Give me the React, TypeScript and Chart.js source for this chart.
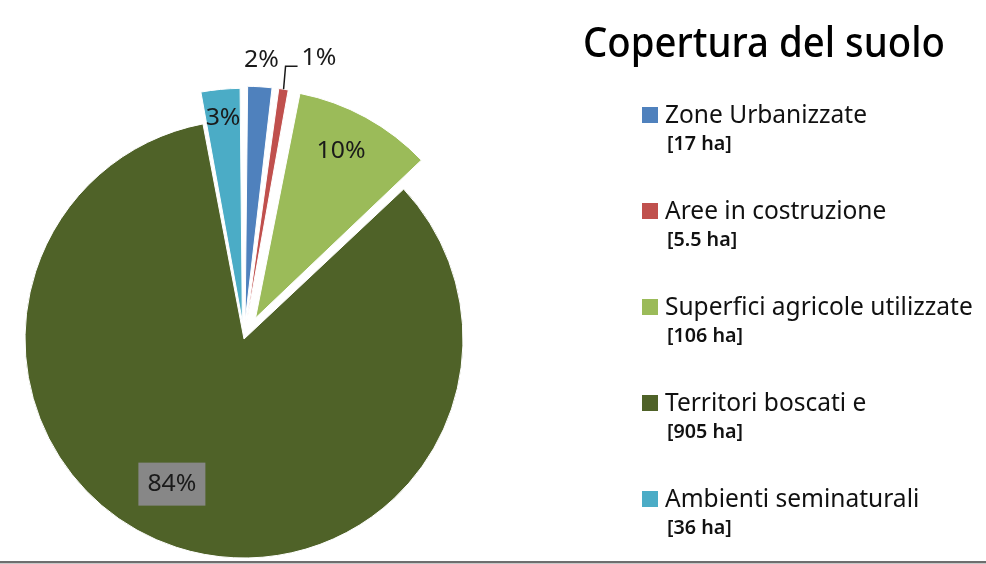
import React, { useEffect, useRef } from "react";
import { Chart, registerables } from "chart.js";

Chart.register(...registerables);

// ---- data ----
const categories = [
  "Zone Urbanizzate",
  "Aree in costruzione",
  "Superfici agricole utilizzate",
  "Territori boscati e",
  "Ambienti seminaturali",
];
const areaLabels = ["[17 ha]", "[5.5 ha]", "[106 ha]", "[905 ha]", "[36 ha]"];
const shares = [2, 1, 10, 84, 3];
const shareLabels = ["2%", "1%", "10%", "84%", "3%"];
const chartTitle = "Copertura del suolo";

// ---- styles ----
const colors = ["#4F81BD", "#C0504D", "#9BBB59", "#4F6228", "#4BACC6"];
const explode = [72, 70, 96, 0, 70];
const FONT = '"Noto Sans", "Open Sans", sans-serif';

function squeeze(ctx: CanvasRenderingContext2D, ref: string, size: number, weight: string, width: number) {
  ctx.font = `${weight} ${size}px ${FONT}`;
  return width / ctx.measureText(ref).width;
}

function fitSize(ctx: CanvasRenderingContext2D, ref: string, weight: string, width: number) {
  ctx.font = `${weight} 100px ${FONT}`;
  return (100 * width) / ctx.measureText(ref).width;
}

function drawText(
  ctx: CanvasRenderingContext2D,
  text: string,
  x: number,
  y: number,
  size: number,
  weight: string,
  sx: number,
  align: CanvasTextAlign,
  baseline: CanvasTextBaseline
) {
  ctx.save();
  ctx.font = `${weight} ${size}px ${FONT}`;
  ctx.textAlign = align;
  ctx.textBaseline = baseline;
  ctx.translate(x, y);
  ctx.scale(sx, 1);
  ctx.fillText(text, 0, 0);
  ctx.restore();
}

const labelPlugin = {
  id: "sliceLabels",
  afterDatasetsDraw(chart: any) {
    const ctx: CanvasRenderingContext2D = chart.ctx;
    const meta = chart.getDatasetMeta(0);
    const size = 24;
    const sx = squeeze(ctx, "84%", size, "400", 49);
    ctx.save();
    meta.data.forEach((arc: any, i: number) => {
      const p = arc.getProps(["x", "y", "startAngle", "endAngle", "outerRadius", "circumference"], true);
      const off = (arc.options.offset || 0) / 4;
      const mid = (p.startAngle + p.endAngle) / 2;
      const fix = 1 - Math.sin(Math.min(Math.PI, p.circumference || 0));
      const t = off * (1 + fix);
      const cx = p.x + Math.cos(mid) * t;
      const cy = p.y + Math.sin(mid) * t;
      const r = p.outerRadius;
      const at = (k: number, da: number) => [cx + Math.cos(mid + da) * r * k, cy + Math.sin(mid + da) * r * k];
      ctx.fillStyle = "#1a1a1a";
      if (i === 0) {
        const [x, y] = at(1.12, 0);
        drawText(ctx, shareLabels[i], x, y, size, "400", sx, "center", "middle");
      } else if (i === 1) {
        const sxp = cx + Math.cos(mid) * r;
        const syp = cy + Math.sin(mid) * r;
        ctx.strokeStyle = "#1a1a1a";
        ctx.lineWidth = 1.5;
        ctx.beginPath();
        ctx.moveTo(sxp, syp);
        ctx.lineTo(sxp + 2, syp - 23);
        ctx.lineTo(sxp + 14, syp - 23);
        ctx.stroke();
        drawText(ctx, shareLabels[i], sxp + 18, syp - 31, size, "400", sx, "left", "middle");
      } else if (i === 2) {
        const [x, y] = at(0.81, -0.03);
        drawText(ctx, shareLabels[i], x, y, size, "400", sx, "center", "middle");
      } else if (i === 3) {
        const [x, y] = at(0.74, 0.147);
        ctx.fillStyle = "#878787";
        ctx.fillRect(x - 33.5, y - 21.5, 67, 43);
        ctx.fillStyle = "#1a1a1a";
        drawText(ctx, shareLabels[i], x, y, size, "400", sx, "center", "middle");
      } else {
        const [x, y] = at(0.87, 0);
        drawText(ctx, shareLabels[i], x, y, size, "400", sx, "center", "middle");
      }
    });
    ctx.restore();
  },
  afterDraw(chart: any) {
    const ctx: CanvasRenderingContext2D = chart.ctx;
    ctx.save();
    // title
    const tSize = 41;
    const tsx = squeeze(ctx, chartTitle, tSize, "500", 362);
    ctx.fillStyle = "#000";
    drawText(ctx, chartTitle, 583, 57, tSize, "500", tsx, "left", "alphabetic");
    // legend
    const mSize = fitSize(ctx, categories[2], "400", 308);
    const sSize = fitSize(ctx, areaLabels[2], "600", 76);
    categories.forEach((name, i) => {
      const yc = 115 + i * 96;
      ctx.fillStyle = colors[i];
      ctx.fillRect(642, yc - 8, 16, 16);
      ctx.fillStyle = "#111";
      drawText(ctx, name, 665, yc + 8, mSize, "400", 1, "left", "alphabetic");
      drawText(ctx, areaLabels[i], 667, yc + 35, sSize, "600", 1, "left", "alphabetic");
    });
    // bottom rule
    ctx.fillStyle = "#6e6e6e";
    ctx.fillRect(0, 561, 986, 2);
    ctx.fillStyle = "#c8c8c8";
    ctx.fillRect(0, 563, 986, 1);
    ctx.restore();
  },
};

export default function App() {
  const ref = useRef<HTMLCanvasElement | null>(null);
  useEffect(() => {
    if (!ref.current) return;
    const chart = new Chart(ref.current, {
      type: "pie",
      data: {
        labels: categories,
        datasets: [
          {
            data: shares,
            backgroundColor: colors,
            borderColor: "#ffffff",
            borderWidth: 1,
            offset: explode,
            clip: false as any,
          },
        ],
      },
      options: {
        responsive: false,
        animation: false,
        radius: 219,
        layout: { padding: { left: 0, top: 114, right: 498, bottom: 0 } },
        plugins: {
          legend: { display: false },
          title: { display: false },
          tooltip: { enabled: false },
        },
        events: [],
      } as any,
      plugins: [labelPlugin],
    });
    return () => chart.destroy();
  }, []);
  return (
    <div style={{ position: "absolute", left: 0, top: 0, width: 986, height: 564, background: "#fff" }}>
      <canvas ref={ref} width={986} height={564} />
    </div>
  );
}
